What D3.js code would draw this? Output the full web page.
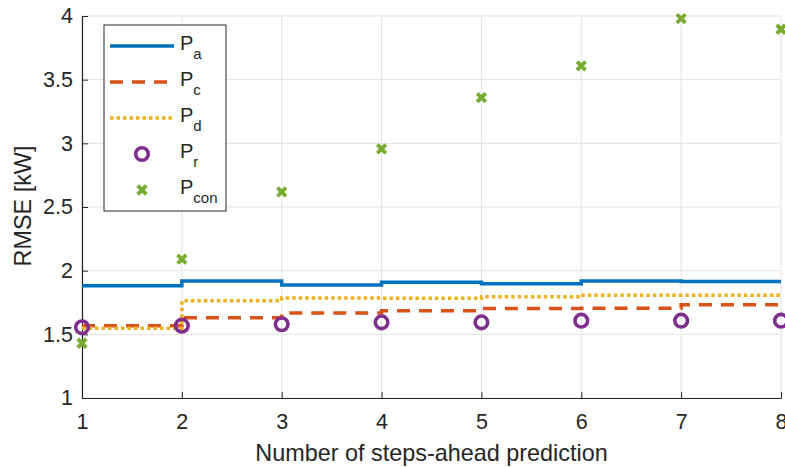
<!DOCTYPE html>
<html><head><meta charset="utf-8">
<script src="https://cdn.jsdelivr.net/npm/d3@7"></script>
<style>body{margin:0;background:#fff}svg{display:block}text{font-family:"Liberation Sans",Arial,sans-serif;fill:#262626}</style>
</head><body>
<script>
const steps = [1,2,3,4,5,6,7,8];
const Pa   = [1.882,1.919,1.888,1.909,1.898,1.919,1.914,1.914];
const Pc   = [1.568,1.631,1.668,1.686,1.702,1.705,1.733,1.733];
const Pd   = [1.547,1.764,1.785,1.783,1.796,1.807,1.807,1.807];
const Pr   = [1.555,1.568,1.579,1.594,1.594,1.607,1.607,1.607];
const Pcon = [1.43,2.09,2.618,2.956,3.359,3.608,3.98,3.896];
const xTicks = [1,2,3,4,5,6,7,8];
const yTicks = [1,1.5,2,2.5,3,3.5,4];
const legendItems = [
  {main:"P", sub:"a", type:"line", color:"#0072BD", dash:null},
  {main:"P", sub:"c", type:"line", color:"#D95319", dash:"13,9"},
  {main:"P", sub:"d", type:"line", color:"#EDB120", dash:"3.5,3"},
  {main:"P", sub:"r", type:"circle", color:"#7E2F8E"},
  {main:"P", sub:"con", type:"cross", color:"#77AC30"}
];

const W=785,H=467, L=82, R=781, T=16, B=398;
const svg=d3.select("body").append("svg").attr("width",W).attr("height",H);
const x=d3.scaleLinear().domain([1,8]).range([L,R]);
const y=d3.scaleLinear().domain([1,4]).range([B,T]);

// grid
svg.append("g").selectAll("line").data(xTicks).join("line")
  .attr("x1",d=>x(d)).attr("x2",d=>x(d)).attr("y1",T).attr("y2",B)
  .attr("stroke","#e3e3e3").attr("stroke-width",1);
svg.append("g").selectAll("line").data(yTicks).join("line")
  .attr("x1",L).attr("x2",R).attr("y1",d=>y(d)).attr("y2",d=>y(d))
  .attr("stroke","#e3e3e3").attr("stroke-width",1);

// axes
const xa=svg.append("g").attr("transform",`translate(0,${B})`)
  .call(d3.axisBottom(x).tickValues(xTicks).tickSizeInner(-6).tickSizeOuter(0).tickPadding(16).tickFormat(d3.format("d")));
const ya=svg.append("g").attr("transform",`translate(${L},0)`)
  .call(d3.axisLeft(y).tickValues(yTicks).tickSizeInner(-6).tickSizeOuter(0).tickPadding(9).tickFormat(d=>String(d)));
[xa,ya].forEach(a=>{
  a.select(".domain").attr("stroke","#262626").attr("stroke-width",1.2);
  a.selectAll(".tick line").attr("stroke","#262626");
  a.selectAll(".tick text").attr("font-size",21.5).attr("font-family","Liberation Sans, Arial, sans-serif").attr("fill","#262626");
});

// series
const line=d3.line().x((d,i)=>x(steps[i])).y(d=>y(d)).curve(d3.curveStepAfter);
svg.append("path").attr("d",line(Pa)).attr("fill","none").attr("stroke","#0072BD").attr("stroke-width",3.5);
svg.append("path").attr("d",line(Pc)).attr("fill","none").attr("stroke","#D95319").attr("stroke-width",3.5).attr("stroke-dasharray","13,9");
svg.append("path").attr("d",line(Pd)).attr("fill","none").attr("stroke","#EDB120").attr("stroke-width",3.5).attr("stroke-dasharray","3.5,3");

svg.append("g").selectAll("circle").data(Pr).join("circle")
  .attr("cx",(d,i)=>x(steps[i])).attr("cy",d=>y(d)).attr("r",6.3)
  .attr("fill","none").attr("stroke","#7E2F8E").attr("stroke-width",3.6);

const cross=(g,cx,cy,s,c)=>{
  g.append("path").attr("d",`M${cx-s},${cy-s}L${cx+s},${cy+s}M${cx-s},${cy+s}L${cx+s},${cy-s}`)
   .attr("stroke",c).attr("stroke-width",3.8).attr("fill","none");
};
const cg=svg.append("g");
Pcon.forEach((d,i)=>cross(cg,x(steps[i]),y(d),4.3,"#77AC30"));

// labels
svg.append("text").attr("x",(L+R)/2).attr("y",461).attr("text-anchor","middle").attr("font-size",23.4)
  .text("Number of steps-ahead prediction");
svg.append("text").attr("transform",`translate(31,206) rotate(-90)`).attr("text-anchor","middle").attr("font-size",23.4)
  .text("RMSE [kW]");

// legend
const lg=svg.append("g");
lg.append("rect").attr("x",104).attr("y",25).attr("width",122).attr("height",186)
  .attr("fill","#fff").attr("stroke","#262626").attr("stroke-width",1);
legendItems.forEach((it,i)=>{
  const cy=46+i*36;
  if(it.type==="line"){
    lg.append("line").attr("x1",110).attr("x2",174).attr("y1",cy).attr("y2",cy)
      .attr("stroke",it.color).attr("stroke-width",3.5).attr("stroke-dasharray",it.dash);
  } else if(it.type==="circle"){
    lg.append("circle").attr("cx",142).attr("cy",cy).attr("r",6.3).attr("fill","none")
      .attr("stroke",it.color).attr("stroke-width",3.6);
  } else {
    cross(lg,142,cy,4.3,it.color);
  }
  const t=lg.append("text").attr("x",180).attr("y",cy+4).attr("font-size",20);
  t.append("tspan").text(it.main);
  t.append("tspan").attr("dy",9).attr("font-size",15).text(it.sub);
});
</script>
</body></html>
